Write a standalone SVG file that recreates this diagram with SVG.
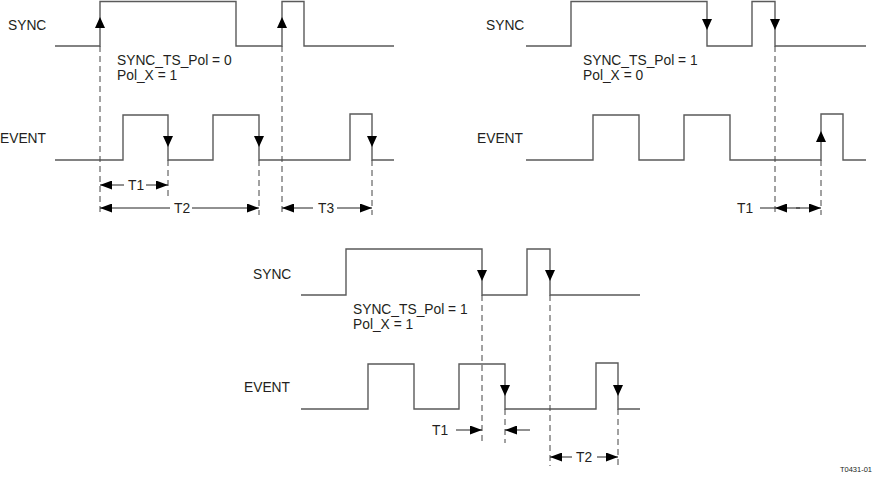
<svg xmlns="http://www.w3.org/2000/svg" width="874" height="478" viewBox="0 0 874 478">
<style>
text{font-family:"Liberation Sans",Arial,sans-serif;font-size:13.8px;fill:#231f20}
.sig{fill:none;stroke:#5a5a5a;stroke-width:1.4}
.dash{fill:none;stroke:#444;stroke-width:1;stroke-dasharray:6 4}
.dim{fill:none;stroke:#222;stroke-width:1}
.ah{fill:#000}
.small{font-size:7.5px}
</style>
<defs>
<marker id="dr" viewBox="0 0 12 9" refX="12" refY="4.5" markerWidth="12" markerHeight="9" markerUnits="userSpaceOnUse" orient="auto"><path d="M0,0L12,4.5L0,9Z" fill="#000"/></marker>
</defs>

<g id="panel-a">
<g id="a-sync">
<text x="8" y="29.5">SYNC</text>
<polyline class="sig" points="55,46 100,46 100,1.5 236,1.5 236,46 282,46 282,1.5 304,1.5 304,46 394,46"/>
<polygon class="ah" points="100,17 95,28 105,28"/>
<polygon class="ah" points="282,17 277,28 287,28"/>
</g>
<g id="a-label">
<text x="117" y="65">SYNC_TS_Pol = 0</text>
<text x="117" y="79.5">Pol_X = 1</text>
</g>
<g id="a-event">
<text x="0" y="142.5">EVENT</text>
<polyline class="sig" points="55,160 123,160 123,115 168,115 168,160 213,160 213,115 259,115 259,160 350,160 350,114 372,114 372,160 394,160"/>
<polygon class="ah" points="168,147 163,136 173,136"/>
<polygon class="ah" points="259,147 254,136 264,136"/>
<polygon class="ah" points="372,147 367,136 377,136"/>
</g>
<g id="a-t1"><text x="128" y="190">T1</text></g>
<g id="a-t2"><text x="174" y="213">T2</text></g>
<g id="a-t3"><text x="318" y="213">T3</text></g>
</g>

<g id="panel-b">
<g id="b-sync">
<text x="486" y="29.5">SYNC</text>
<polyline class="sig" points="526,46 571,46 571,1.5 707,1.5 707,46 752,46 752,1.5 775,1.5 775,46 866,46"/>
<polygon class="ah" points="707,30 702,19 712,19"/>
<polygon class="ah" points="775,30 770,19 780,19"/>
</g>
<g id="b-label">
<text x="583" y="65">SYNC_TS_Pol = 1</text>
<text x="583" y="79.5">Pol_X = 0</text>
</g>
<g id="b-event">
<text x="477" y="142.5">EVENT</text>
<polyline class="sig" points="526,160 593,160 593,115 639,115 639,160 684,160 684,115 730,115 730,160 821,160 821,114 843,114 843,160 866,160"/>
<polygon class="ah" points="821,131 816,142 826,142"/>
</g>
<g id="b-t1"><text x="737" y="213">T1</text></g>
</g>

<g id="panel-c">
<g id="c-sync">
<text x="253" y="279">SYNC</text>
<polyline class="sig" points="301,295 346,295 346,249 482,249 482,295 527,295 527,249 550,249 550,295 640,295"/>
<polygon class="ah" points="482,281 477,270 487,270"/>
<polygon class="ah" points="550,281 545,270 555,270"/>
</g>
<g id="c-label">
<text x="353" y="314">SYNC_TS_Pol = 1</text>
<text x="353" y="329">Pol_X = 1</text>
</g>
<g id="c-event">
<text x="244" y="392">EVENT</text>
<polyline class="sig" points="301,409 368,409 368,364 414,364 414,409 459,409 459,364 505,364 505,409 596,409 596,363 618,363 618,409 640,409"/>
<polygon class="ah" points="505,396 500,385 510,385"/>
<polygon class="ah" points="618,396 613,385 623,385"/>
</g>
<g id="c-t1"><text x="432" y="435">T1</text></g>
<g id="c-t2"><text x="576" y="462">T2</text></g>
</g>

<g id="connectors">
<line class="dash" x1="100" y1="46" x2="100" y2="215"/>
<line class="dash" x1="168" y1="160" x2="168" y2="196"/>
<line class="dash" x1="259" y1="160" x2="259" y2="215"/>
<line class="dash" x1="282" y1="46" x2="282" y2="215"/>
<line class="dash" x1="372" y1="160" x2="372" y2="215"/>
<line class="dash" x1="775" y1="46" x2="775" y2="215"/>
<line class="dash" x1="821" y1="160" x2="821" y2="215"/>
<line class="dash" x1="482" y1="295" x2="482" y2="443"/>
<line class="dash" x1="505" y1="409" x2="505" y2="443"/>
<line class="dash" x1="550" y1="295" x2="550" y2="466"/>
<line class="dash" x1="618" y1="409" x2="618" y2="466"/>

<line class="dim" x1="124" y1="185" x2="100" y2="185" marker-end="url(#dr)"/>
<line class="dim" x1="146" y1="185" x2="168" y2="185" marker-end="url(#dr)"/>
<line class="dim" x1="170" y1="208" x2="100" y2="208" marker-end="url(#dr)"/>
<line class="dim" x1="192" y1="208" x2="259" y2="208" marker-end="url(#dr)"/>
<line class="dim" x1="313" y1="208" x2="282" y2="208" marker-end="url(#dr)"/>
<line class="dim" x1="337" y1="208" x2="372" y2="208" marker-end="url(#dr)"/>

<line class="dim" x1="760" y1="208" x2="775" y2="208"/>
<line class="dim" x1="800" y1="208" x2="775" y2="208" marker-end="url(#dr)"/>
<line class="dim" x1="796" y1="208" x2="821" y2="208" marker-end="url(#dr)"/>

<line class="dim" x1="456" y1="430" x2="482" y2="430" marker-end="url(#dr)"/>
<line class="dim" x1="530" y1="430" x2="505" y2="430" marker-end="url(#dr)"/>
<line class="dim" x1="572" y1="457" x2="550" y2="457" marker-end="url(#dr)"/>
<line class="dim" x1="597" y1="457" x2="618" y2="457" marker-end="url(#dr)"/>
</g>

<text class="small" x="872" y="472" text-anchor="end">T0431-01</text>
</svg>
